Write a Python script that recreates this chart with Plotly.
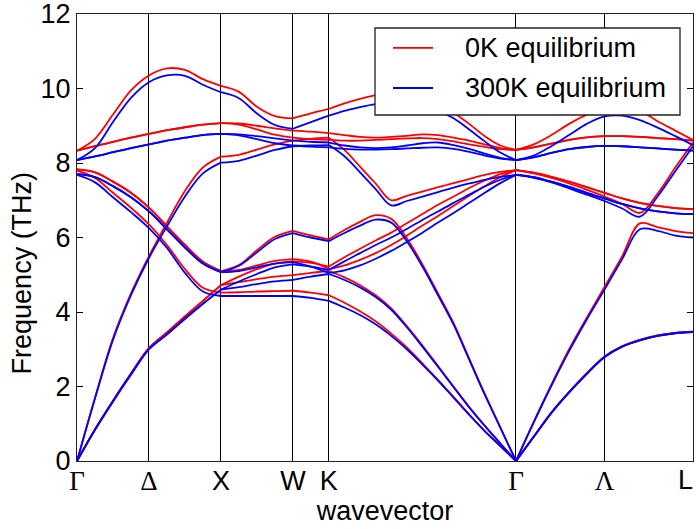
import numpy as np
import plotly.graph_objects as go

# High-symmetry points along the Brillouin-zone path (axis position, label)
node_k = [0.0, 0.5, 1.0, 1.5, 1.75, 3.05, 3.665, 4.28]
node_labels = ["Γ", "Δ", "X", "W", "K", "Γ", "Λ", "L"]
greek = {"Γ", "Δ", "Λ"}

# Path segments sampled on a regular grid: (start k, end k, samples)
segments = [(0.0, 1.0, 9), (1.0, 1.5, 5), (1.5, 1.75, 3), (1.75, 3.05, 13), (3.05, 4.28, 11)]

# ---- 0 K equilibrium: phonon frequencies (THz), nine branches per segment ----
gx_0K = [
    [0, 0.85, 1.62, 2.35, 3.03, 3.45, 3.88, 4.3, 4.72],
    [0, 0.85, 1.62, 2.35, 3.03, 3.45, 3.88, 4.3, 4.72],
    [0, 1.7, 3.3, 4.5, 5.5, 6.4, 7.25, 7.88, 8.17],
    [7.8, 7.6, 7.2, 6.8, 6.35, 5.8, 5.15, 4.65, 4.52],
    [7.83, 7.75, 7.5, 7.2, 6.8, 6.3, 5.8, 5.35, 5.1],
    [7.83, 7.75, 7.5, 7.2, 6.8, 6.3, 5.8, 5.35, 5.1],
    [8.33, 8.45, 8.57, 8.68, 8.78, 8.88, 8.96, 9.03, 9.07],
    [8.33, 8.45, 8.57, 8.68, 8.78, 8.88, 8.96, 9.03, 9.07],
    [8.33, 8.65, 9.3, 9.95, 10.35, 10.54, 10.5, 10.25, 10.07],
]
xw_0K = [
    [4.72, 4.8, 4.88, 4.95, 4.99],
    [4.72, 4.95, 5.15, 5.3, 5.36],
    [8.17, 8.22, 8.36, 8.5, 8.6],
    [4.52, 4.53, 4.55, 4.56, 4.57],
    [5.1, 5.13, 5.25, 5.37, 5.42],
    [5.1, 5.26, 5.66, 6.02, 6.18],
    [9.07, 9.06, 9.0, 8.93, 8.87],
    [9.07, 9.03, 8.9, 8.76, 8.68],
    [10.07, 9.91, 9.51, 9.26, 9.2],
]
wk_0K = [
    [4.99, 5.05, 5.1],
    [5.36, 5.32, 5.22],
    [8.6, 8.65, 8.68],
    [4.57, 4.52, 4.45],
    [5.42, 5.35, 5.15],
    [6.18, 6.06, 5.95],
    [8.87, 8.84, 8.8],
    [8.68, 8.64, 8.62],
    [9.2, 9.33, 9.45],
]
kg_0K = [
    [9.45, 9.6, 9.72, 9.82, 9.9, 9.9, 9.8, 9.6, 9.35, 9.05, 8.72, 8.47, 8.35],
    [8.8, 8.75, 8.7, 8.68, 8.7, 8.73, 8.77, 8.75, 8.68, 8.6, 8.5, 8.4, 8.35],
    [8.62, 8.6, 8.6, 8.62, 8.64, 8.66, 8.67, 8.64, 8.58, 8.5, 8.43, 8.37, 8.35],
    [8.68, 8.35, 7.9, 7.45, 7.0, 7.12, 7.23, 7.35, 7.46, 7.57, 7.68, 7.76, 7.81],
    [5.95, 6.2, 6.42, 6.6, 6.5, 5.98, 5.28, 4.5, 3.7, 2.75, 1.8, 0.9, 0],
    [5.22, 5.47, 5.7, 5.92, 6.13, 6.38, 6.63, 6.88, 7.1, 7.33, 7.53, 7.7, 7.81],
    [5.15, 5.25, 5.4, 5.58, 5.8, 6.05, 6.32, 6.58, 6.85, 7.12, 7.38, 7.62, 7.81],
    [5.1, 4.93, 4.72, 4.45, 4.1, 3.62, 3.1, 2.55, 2.0, 1.45, 0.95, 0.47, 0],
    [4.45, 4.25, 4.02, 3.75, 3.42, 3.05, 2.62, 2.18, 1.72, 1.25, 0.8, 0.4, 0],
]
gl_0K = [
    [8.35, 8.5, 8.75, 9.05, 9.3, 9.45, 9.5, 9.4, 9.12, 8.87, 8.62],
    [8.35, 8.42, 8.52, 8.62, 8.69, 8.72, 8.72, 8.7, 8.67, 8.64, 8.6],
    [8.35, 8.42, 8.52, 8.62, 8.69, 8.72, 8.72, 8.7, 8.67, 8.64, 8.6],
    [7.81, 7.72, 7.6, 7.45, 7.28, 7.1, 6.9, 6.66, 7.18, 7.88, 8.55],
    [7.81, 7.74, 7.63, 7.5, 7.35, 7.2, 7.05, 6.93, 6.85, 6.79, 6.76],
    [7.81, 7.74, 7.63, 7.5, 7.35, 7.2, 7.05, 6.93, 6.85, 6.79, 6.76],
    [0, 1.05, 2.05, 3.0, 3.85, 4.67, 5.5, 6.38, 6.28, 6.17, 6.12],
    [0, 0.65, 1.3, 1.85, 2.35, 2.8, 3.08, 3.25, 3.37, 3.44, 3.47],
    [0, 0.65, 1.3, 1.85, 2.35, 2.8, 3.08, 3.25, 3.37, 3.44, 3.47],
]

# ---- 300 K equilibrium ----
gx_300K = [
    [0, 0.84, 1.6, 2.32, 3.0, 3.4, 3.82, 4.22, 4.6],
    [0, 0.84, 1.6, 2.32, 3.0, 3.4, 3.82, 4.22, 4.6],
    [0, 1.68, 3.25, 4.45, 5.45, 6.3, 7.1, 7.72, 8.01],
    [7.68, 7.48, 7.08, 6.68, 6.25, 5.72, 5.05, 4.55, 4.43],
    [7.7, 7.62, 7.38, 7.08, 6.7, 6.22, 5.73, 5.3, 5.07],
    [7.7, 7.62, 7.38, 7.08, 6.7, 6.22, 5.73, 5.3, 5.07],
    [8.08, 8.18, 8.29, 8.4, 8.5, 8.6, 8.68, 8.75, 8.78],
    [8.08, 8.18, 8.29, 8.4, 8.5, 8.6, 8.68, 8.75, 8.78],
    [8.08, 8.4, 9.1, 9.75, 10.17, 10.35, 10.34, 10.1, 9.9],
]
xw_300K = [
    [4.6, 4.67, 4.75, 4.82, 4.86],
    [4.6, 4.82, 5.02, 5.2, 5.28],
    [8.01, 8.06, 8.2, 8.35, 8.45],
    [4.43, 4.43, 4.43, 4.43, 4.43],
    [5.07, 5.1, 5.2, 5.3, 5.34],
    [5.07, 5.24, 5.6, 5.96, 6.12],
    [8.78, 8.77, 8.72, 8.66, 8.6],
    [8.78, 8.74, 8.64, 8.53, 8.47],
    [9.9, 9.74, 9.33, 9.02, 8.92],
]
wk_300K = [
    [4.86, 4.95, 5.02],
    [5.28, 5.22, 5.13],
    [8.45, 8.47, 8.48],
    [4.43, 4.38, 4.3],
    [5.34, 5.22, 5.05],
    [6.12, 6.0, 5.9],
    [8.6, 8.57, 8.55],
    [8.47, 8.44, 8.42],
    [8.92, 9.1, 9.27],
]
kg_300K = [
    [9.27, 9.4, 9.5, 9.58, 9.62, 9.6, 9.52, 9.4, 9.2, 8.9, 8.58, 8.28, 8.08],
    [8.55, 8.47, 8.42, 8.4, 8.42, 8.47, 8.53, 8.55, 8.48, 8.38, 8.25, 8.14, 8.08],
    [8.42, 8.38, 8.36, 8.36, 8.37, 8.39, 8.41, 8.42, 8.38, 8.3, 8.2, 8.12, 8.08],
    [8.48, 8.18, 7.75, 7.3, 6.86, 6.98, 7.1, 7.22, 7.34, 7.45, 7.55, 7.63, 7.68],
    [5.9, 6.12, 6.32, 6.48, 6.4, 5.9, 5.22, 4.45, 3.66, 2.72, 1.78, 0.89, 0],
    [5.13, 5.36, 5.58, 5.8, 6.0, 6.23, 6.47, 6.7, 6.93, 7.15, 7.37, 7.55, 7.68],
    [5.05, 5.12, 5.25, 5.43, 5.64, 5.88, 6.13, 6.4, 6.66, 6.93, 7.2, 7.46, 7.68],
    [5.02, 4.86, 4.66, 4.4, 4.06, 3.59, 3.07, 2.53, 1.98, 1.44, 0.94, 0.47, 0],
    [4.3, 4.12, 3.92, 3.67, 3.36, 3.0, 2.59, 2.16, 1.7, 1.24, 0.8, 0.4, 0],
]
gl_300K = [
    [8.08, 8.2, 8.45, 8.75, 9.05, 9.25, 9.27, 9.15, 8.95, 8.72, 8.48],
    [8.08, 8.15, 8.27, 8.37, 8.43, 8.46, 8.45, 8.42, 8.39, 8.36, 8.33],
    [8.08, 8.15, 8.27, 8.37, 8.43, 8.46, 8.45, 8.42, 8.39, 8.36, 8.33],
    [7.68, 7.6, 7.48, 7.32, 7.15, 6.98, 6.78, 6.56, 7.1, 7.78, 8.45],
    [7.68, 7.62, 7.5, 7.36, 7.2, 7.05, 6.9, 6.78, 6.7, 6.65, 6.63],
    [7.68, 7.62, 7.5, 7.36, 7.2, 7.05, 6.9, 6.78, 6.7, 6.65, 6.63],
    [0, 1.03, 2.02, 2.95, 3.8, 4.6, 5.42, 6.22, 6.18, 6.05, 6.0],
    [0, 0.65, 1.29, 1.84, 2.34, 2.79, 3.07, 3.24, 3.36, 3.43, 3.46],
    [0, 0.65, 1.29, 1.84, 2.34, 2.79, 3.07, 3.24, 3.36, 3.43, 3.46],
]

datasets = [
    ("0K equilibrium", "#ff0000", [gx_0K, xw_0K, wk_0K, kg_0K, gl_0K]),
    ("300K equilibrium", "#0000ff", [gx_300K, xw_300K, wk_300K, kg_300K, gl_300K]),
]


def band_lines(per_segment):
    """Concatenate every branch of every segment, broken with gaps so each piece is smoothed alone."""
    xs, ys = [], []
    for (k0, k1, n), rows in zip(segments, per_segment):
        kk = np.linspace(k0, k1, n).tolist()
        for row in rows:
            xs += kk + [None]
            ys += list(row) + [None]
    return xs, ys


FONT = "Liberation Sans"
SERIF = "Liberation Serif"
SIZE = 27

fig = go.Figure()
for name, color, per_segment in datasets:
    xs, ys = band_lines(per_segment)
    fig.add_trace(go.Scatter(
        x=xs, y=ys, mode="lines", name=name,
        line=dict(color=color, width=1.8, shape="spline", smoothing=1.0),
        connectgaps=False, hoverinfo="skip",
    ))


def label_html(lab):
    return f"<span style=\"font-family:'{SERIF}'\">{lab}</span>" if lab in greek else lab


# The last label sits on the right frame edge; it is right-aligned there
# as a separate text so it stays inside the figure.
ticktext = [label_html(lab) for lab in node_labels[:-1]] + [""]

fig.update_layout(
    width=696, height=529,
    margin=dict(l=77, r=3, t=14, b=68, autoexpand=False),
    paper_bgcolor="white", plot_bgcolor="white",
    font=dict(family=FONT, size=SIZE, color="black"),
    showlegend=False,
    xaxis=dict(
        range=[node_k[0], node_k[-1]], automargin=False,
        tickmode="array", tickvals=node_k, ticktext=ticktext,
        ticks="", showgrid=True, gridcolor="black", gridwidth=1,
        showline=True, mirror=True, linecolor="#222222", linewidth=1.3,
        zeroline=False, tickfont=dict(size=SIZE),
        ticklabeloverflow="allow", ticklabelstandoff=-5,
        title=dict(text="wavevector", font=dict(size=SIZE), standoff=0),
    ),
    yaxis=dict(
        range=[0, 12], automargin=False,
        tickmode="array", tickvals=list(range(0, 13, 2)),
        ticks="inside", ticklen=6, tickcolor="black", tickwidth=1,
        showline=True, mirror="ticks", linecolor="#222222", linewidth=1.3,
        showgrid=False, zeroline=False, tickfont=dict(size=SIZE),
        ticklabeloverflow="allow",
    ),
)

fig.add_annotation(xref="paper", yref="paper", x=1.003, y=-0.043,
                   xanchor="right", yanchor="middle", showarrow=False,
                   text=label_html(node_labels[-1]),
                   font=dict(family=FONT, size=SIZE, color="black"))

# Vertical axis title
fig.add_annotation(xref="paper", yref="paper", x=-0.089, y=0.42,
                   xanchor="center", yanchor="middle", textangle=-90,
                   showarrow=False, text="Frequency (THz)",
                   font=dict(family=FONT, size=SIZE, color="black"))

# Legend box drawn over the curves
box = dict(x0=0.4838, x1=0.9789, y0=0.774, y1=0.9687)
fig.add_shape(type="rect", xref="paper", yref="paper", layer="above",
              fillcolor="white", line=dict(color="#222222", width=1.3), **box)
for (name, color, _), yrow in zip(datasets, [0.924, 0.8345]):
    fig.add_shape(type="line", xref="paper", yref="paper", layer="above",
                  x0=0.513, x1=0.578, y0=yrow, y1=yrow,
                  line=dict(color=color, width=1.8))
    fig.add_annotation(xref="paper", yref="paper", x=0.6266, y=yrow,
                       xanchor="left", yanchor="middle", showarrow=False,
                       text=name, font=dict(family=FONT, size=SIZE, color="black"))

fig.write_html("out.html")
